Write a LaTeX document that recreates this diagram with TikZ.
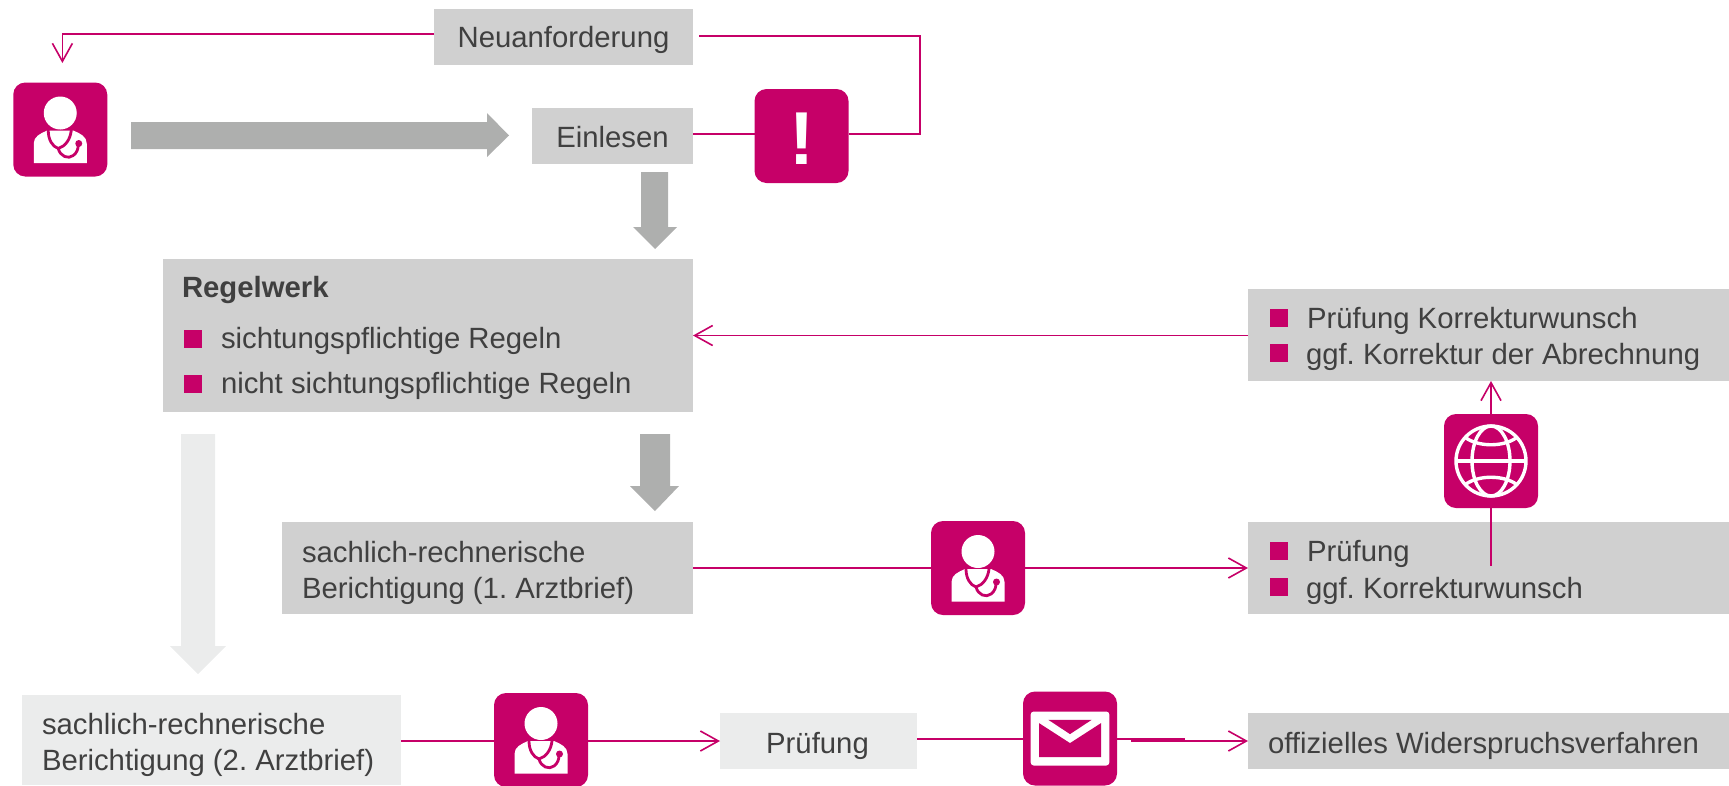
\documentclass[tikz,border=0pt]{standalone}
\usepackage{fontspec}
\setmainfont{Liberation Sans}
\usetikzlibrary{arrows.meta,calc}
\definecolor{mag}{HTML}{C60068}
\definecolor{boxg}{HTML}{D0D0D0}
\definecolor{boxl}{HTML}{EBECEC}
\definecolor{arrg}{HTML}{AEAFAE}
\definecolor{txt}{HTML}{404040}
\tikzset{
  flowbox/.style={fill=#1,draw=none,inner sep=0pt,outer sep=0pt,anchor=north west},
  icon/.style={fill=mag,draw=none,rounded corners=12pt,minimum width=94pt,minimum height=94pt,inner sep=0pt,outer sep=0pt},
  lbl/.style={anchor=base west,inner sep=0pt,outer sep=0pt,text=txt,font=\frenchspacing\fontsize{29.3}{36}\selectfont},
  mlbl/.style={lbl,align=left},
  sq/.style={fill=mag,draw=none,inner sep=0pt,outer sep=0pt,minimum size=18pt,anchor=north west},
  conn/.style={draw=mag,line width=1.8pt},
  tip/.style={-{Straight Barb[length=18pt,width=20pt,line width=1.6pt]}},
  white line/.style={draw=white,line width=3.4pt},
}
\newcommand{\boxat}[6]{% name x y w h colour
  \node[flowbox=#6,minimum width=#4pt,minimum height=#5pt] (#1) at (#2,#3) {};}
\newcommand{\docicon}[3]{%
  \node[icon] (#1) at (#2,#3) {};
  \begin{scope}[shift={(#1.center)}]
    \fill[white] (0,-16.5) ellipse [x radius=16.5pt,y radius=16.5pt];
    \fill[white] (-26.5,33.5) -- (-26.5,14) .. controls (-26.5,7) and (-20,4) .. (-13,1) -- (13,1) .. controls (20,4) and (26.5,7) .. (26.5,14) -- (26.5,33.5) -- cycle;
    \draw[mag,line width=2.8pt,line cap=round] (-12,1) .. controls (-12,10) and (-8,17) .. (-2,19) .. controls (5,17) and (10,10) .. (11,1);
    \draw[mag,line width=2.8pt,line cap=round] (-2,19) .. controls (0,27) and (8,30) .. (13,26) .. controls (17,23) and (18,19) .. (18,15);
    \fill[mag] (18.5,14) circle [radius=3.5pt];
  \end{scope}}
\begin{document}
\begin{tikzpicture}[x=1pt,y=-1pt]
\useasboundingbox (0,0) rectangle (1729,785);
% boxes
\boxat{neu}{434}{9}{259}{55.5}{boxg}
\boxat{ein}{532}{108}{161}{56}{boxg}
\boxat{reg}{163}{259}{530}{153}{boxg}
\boxat{arzta}{282}{522}{411}{92}{boxg}
\boxat{pk}{1248}{522}{481}{92}{boxg}
\boxat{korr}{1248}{289}{481}{92}{boxg}
\boxat{arztb}{22}{695}{379}{90}{boxl}
\boxat{pr}{720}{713}{197}{56}{boxl}
\boxat{wid}{1248}{713}{481}{56}{boxg}
% labels
\node[lbl,anchor=base] (tneu) at (563.5,47) {Neuanforderung};
\node[lbl,anchor=base] (tein) at (612.5,147) {Einlesen};
\node[lbl,font=\frenchspacing\fontsize{29.3}{36}\selectfont\bfseries] (treg) at (182,297) {Regelwerk};
\node[sq] (b1) at (184,330) {};
\node[lbl] (t1) at (221,348) {sichtungspflichtige Regeln};
\node[sq] (b2) at (184,375) {};
\node[lbl] (t2) at (221,393) {nicht sichtungspflichtige Regeln};
\node[mlbl] (ta) at (302,598) {sachlich-rechnerische\\Berichtigung (1. Arztbrief)};
\node[sq] (b3) at (1270,309) {};
\node[lbl] (t3) at (1307,328) {Prüfung Korrekturwunsch};
\node[sq] (b4) at (1270,344) {};
\node[lbl] (t4) at (1306,364) {ggf. Korrektur der Abrechnung};
\node[sq] (b5) at (1270,542) {};
\node[lbl] (t5) at (1307,561) {Prüfung};
\node[sq] (b6) at (1270,578) {};
\node[lbl] (t6) at (1306,598) {ggf. Korrekturwunsch};
\node[mlbl] (tb) at (42,770) {sachlich-rechnerische\\Berichtigung (2. Arztbrief)};
\node[lbl,anchor=base] (tp) at (817.5,753) {Prüfung};
\node[lbl] (tw) at (1268,753) {offizielles Widerspruchsverfahren};
% block arrows
\fill[arrg] (131,122) -- (487,122) -- (487,113) -- (509,135.5) -- (487,157) -- (487,149) -- (131,149) -- cycle;
\fill[arrg] (641,172) -- (668,172) -- (668,227) -- (677,227) -- (655,249) -- (633,227) -- (641,227) -- cycle;
\fill[arrg] (640,434) -- (670,434) -- (670,486) -- (679,486) -- (655,511) -- (630,486) -- (640,486) -- cycle;
\fill[boxl] (181,434) -- (215,434) -- (215,646) -- (226,646) -- (198,674) -- (170,646) -- (181,646) -- cycle;
% icons
\docicon{doca}{60.25}{129.5}
\docicon{docb}{978}{568}
\docicon{docc}{541}{740}
\node[icon] (alert) at (801.5,136) {};
\node[anchor=base,inner sep=0pt,text=white,font=\fontsize{75}{75}\selectfont\bfseries] (excl) at (801.5,164) {!};
\node[icon] (globe) at (1491,461) {};
\begin{scope}[shift={(globe.center)}]
  \draw[white line] (0,0) circle [radius=35pt];
  \draw[white line] (0,0) ellipse [x radius=19pt,y radius=35pt];
  \draw[white line] (-35,0) -- (35,0);
  \draw[white line] (-25,-23) .. controls (-12,-14) and (12,-14) .. (25,-23);
  \draw[white line] (-25,23) .. controls (-12,14) and (12,14) .. (25,23);
\end{scope}
\node[icon] (mail) at (1070,738.5) {};
\begin{scope}[shift={(mail.center)}]
  \fill[white,rounded corners=3pt] (-39.3,-27) rectangle (39.3,27);
  \fill[mag] (-21.7,-18.7) -- (21.7,-18.7) -- (0,-4.4) -- cycle;
  \fill[mag] (-31,-15.4) -- (0,4.6) -- (31,-15.4) -- (31,18.6) -- (-31,18.6) -- cycle;
\end{scope}
% connectors
\coordinate (ca) at (62.4,34);
\draw[conn,tip] (neu.west |- ca) -- (ca) -- (ca |- 0,63);
\coordinate (cb) at (920,134);
\draw[conn] (ein.east |- cb) -- (alert.west |- cb);
\draw[conn] (alert.east |- cb) -- (cb) -- (920,36) -- (699,36);
\draw[conn,tip] (korr.west |- 0,335.5) -- (reg.east |- 0,335.5);
\draw[conn] (arzta.east |- 0,568) -- (docb.west |- 0,568);
\draw[conn,tip] (docb.east |- 0,568) -- (pk.west |- 0,568);
\draw[conn] (globe.south) -- (globe.south |- 0,566);
\draw[conn,tip] (globe.north) -- (korr.south -| globe.north);
\draw[conn] (arztb.east |- 0,741) -- (docc.west |- 0,741);
\draw[conn,tip] (docc.east |- 0,741) -- (pr.west |- 0,741);
\draw[conn] (pr.east |- 0,739) -- (mail.west |- 0,739);
\draw[conn] (mail.east |- 0,739) -- (1185,739);
\draw[conn,tip] (1131,741) -- (wid.west |- 0,741);
\end{tikzpicture}
\end{document}
